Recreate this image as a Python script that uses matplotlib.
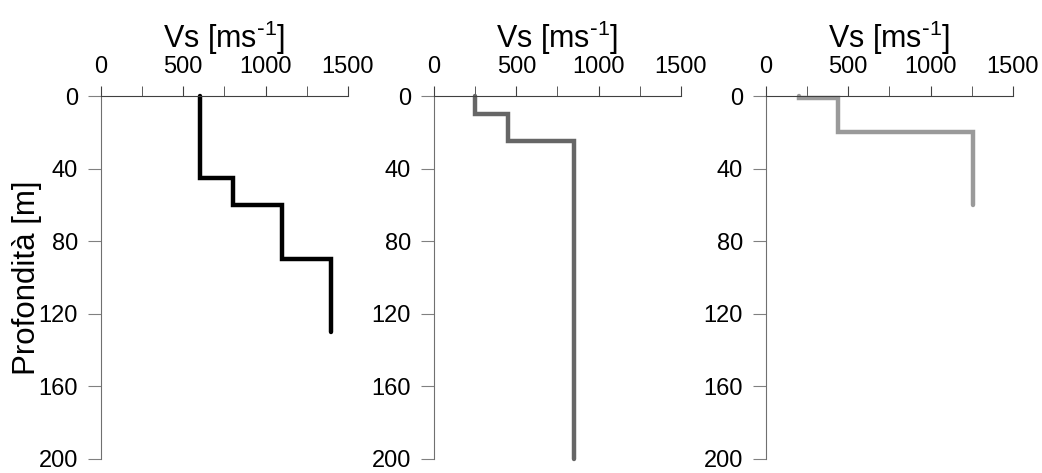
import matplotlib
matplotlib.use("Agg")
import matplotlib.pyplot as plt
import numpy as np

plt.rcParams['font.family'] = ['Liberation Sans', 'DejaVu Sans']
plt.rcParams['mathtext.default'] = 'regular'

# Vs profiles: velocity of each layer and the layer boundaries (depth, m)
vs_1 = [600, 800, 1100, 1400]
depth_1 = [0, 45, 60, 90, 130]

vs_2 = [250, 450, 850]
depth_2 = [0, 10, 25, 200]

vs_3 = [200, 440, 1260]
depth_3 = [0, 1, 20, 60]

profiles = [(vs_1, depth_1), (vs_2, depth_2), (vs_3, depth_3)]
line_colors = ['#000000', '#666666', '#9a9a9a']

x_ticks = [0, 500, 1000, 1500]
x_minor = [250, 750, 1250]
y_ticks = [0, 40, 80, 120, 160, 200]

fig = plt.figure(figsize=(10.42, 4.73), dpi=100)
lefts = [0.0969, 0.4165, 0.735]

for i, (vs, depth) in enumerate(profiles):
    ax = fig.add_axes([lefts[i], 0.03, 0.237, 0.767])
    # turn the layers into a step line
    x = np.repeat(vs, 2)
    y = np.repeat(depth, 2)[1:-1]
    ax.plot(x, y, color=line_colors[i], lw=3.2, solid_capstyle='round',
            solid_joinstyle='miter', clip_on=False)

    ax.set_xlim(0, 1500)
    ax.set_ylim(200, 0)
    ax.xaxis.tick_top()
    ax.xaxis.set_label_position('top')
    ax.set_xticks(x_ticks)
    ax.set_xticks(x_minor, minor=True)
    ax.set_yticks(y_ticks)

    ax.spines['right'].set_visible(False)
    ax.spines['bottom'].set_visible(False)
    ax.spines['top'].set_color('#404040')
    ax.spines['left'].set_color('#707070')

    ax.tick_params(axis='x', which='both', direction='out', length=7.2,
                   color='#404040', labelsize=17, pad=5.5)
    ax.tick_params(axis='y', direction='out', length=9.5, color='#808080',
                   labelsize=17, pad=7)

    ax.set_xlabel(r'Vs [ms$^{\text{-}1}$]', fontsize=22, labelpad=6)
    if i == 0:
        ax.set_ylabel('Profondità [m]', fontsize=22.5)
        ax.yaxis.set_label_coords(-0.24, 0.5)

fig.savefig('out.png', dpi=100)
